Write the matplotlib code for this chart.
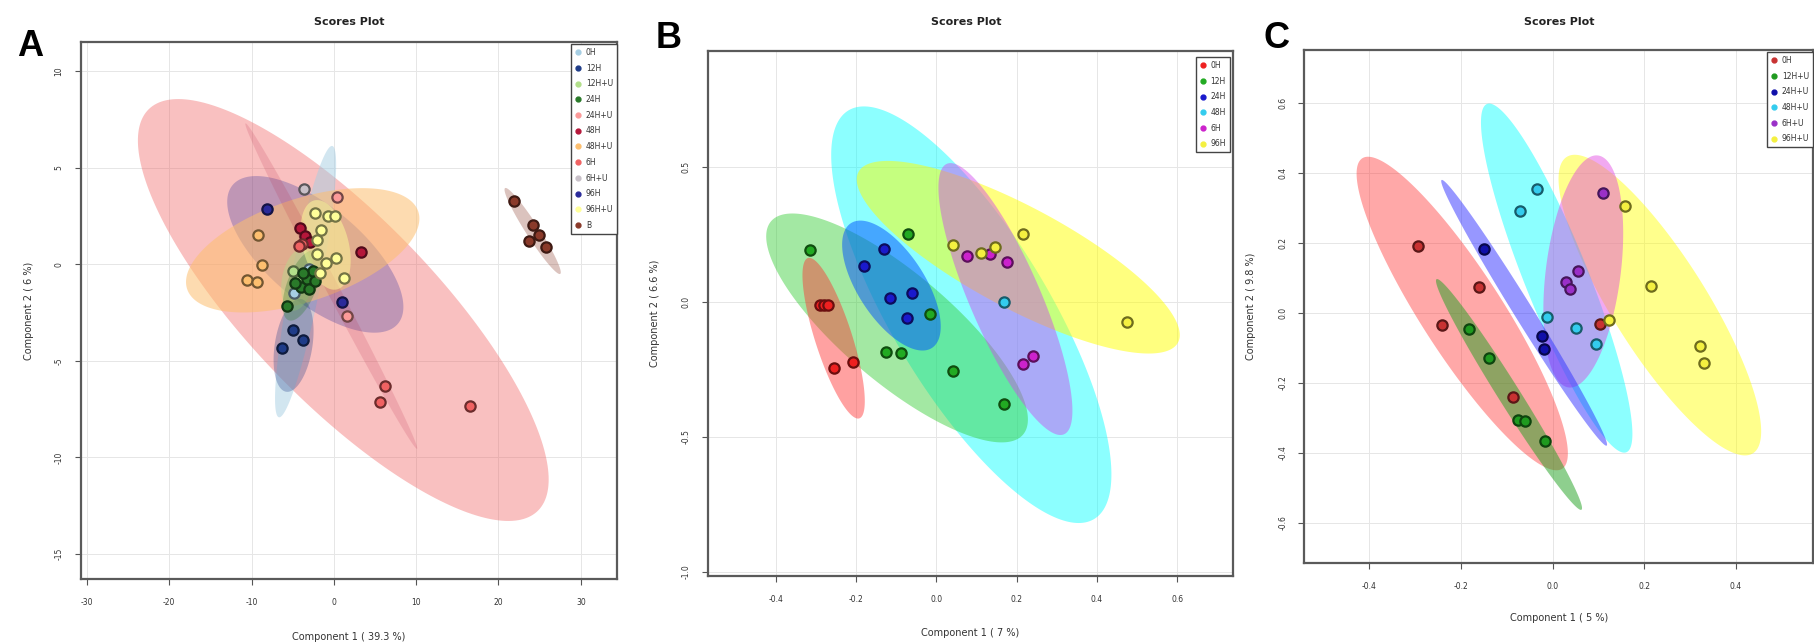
import numpy as np
import matplotlib
matplotlib.use("Agg")
import matplotlib.pyplot as plt
from matplotlib.lines import Line2D
from matplotlib.colors import to_rgb

W, H = 1815, 644

# ---------------- Panel A data ----------------
A_labels = ["0H", "12H", "12H+U", "24H", "24H+U", "48H", "48H+U", "6H", "6H+U", "96H", "96H+U", "B"]
A_colors = ["#a6cee3", "#1f3c88", "#b2df8a", "#2a7a2a", "#fb9a99", "#b5173a",
            "#fdbf6f", "#f06262", "#c8c0c8", "#2a2a9a", "#ffff99", "#8a3a2a"]
A_x = [[-4.89, -3.07],
       [-4.99, -3.79, -6.33],
       [-4.99, -4.2],
       [-5.71, -4.03, -3.31, -2.59, -3.79, -3.07, -4.75, -2.35],
       [0.38, 1.62],
       [-4.17, -3.55, -2.93, 3.25],
       [-9.2, -8.73, -10.5, -9.4],
       [6.27, 5.55, 16.57, -3.93, -4.27],
       [-3.65],
       [-8.1, 1.0],
       [-2.26, -0.77, 0.19, -2.11, -1.54, -2.11, -0.92, 0.28, 1.24, -1.73],
       [21.85, 24.24, 24.96, 23.76, 25.77]]
A_y = [[-1.5, -0.23],
       [-3.41, -3.94, -4.32],
       [-0.34, -0.8],
       [-2.14, -1.19, -0.76, -0.34, -0.44, -1.29, -0.97, -0.87],
       [3.47, -2.67],
       [1.86, 1.46, 1.14, 0.61],
       [1.53, -0.02, -0.83, -0.93],
       [-6.31, -7.12, -7.33, 1.04, 0.93],
       [3.90],
       [2.88, -1.93],
       [2.63, 2.52, 2.52, 1.25, 1.78, 0.51, 0.08, 0.34, -0.72, -0.44],
       [3.26, 2.03, 1.53, 1.19, 0.87]]
# ellipses: centre, one end of the long axis, width ratio
A_ell_cx = [-3.44, -4.9, -4.4, -3.9, None, -0.32, -3.79, 1.14, None, -2.26, -1.0, 24.15]
A_ell_cy = [-0.9, -4.2, -0.8, -1.1, None, -1.13, 0.72, -2.37, None, 0.51, 1.0, 1.72]
A_ell_tx = [-0.2, -4.0, -3.7, -2.3, None, -10.74, 10.25, -22.48, None, -12.3, -2.4, 20.8]
A_ell_ty = [6.12, -1.8, 0.8, 0.7, None, 7.29, 2.73, 8.03, None, 4.1, 3.3, 3.94]
A_ell_r = [0.11, 0.4, 0.5, 0.4, None, 0.035, 0.42, 0.33, None, 0.44, 0.5, 0.13]
A_ell_alpha = [0.5, 0.3, 0.4, 0.3, 0, 0.15, 0.55, 0.4, 0, 0.28, 0.5, 0.3]
A_ell_order = [7, 0, 9, 6, 5, 1, 2, 3, 10, 11]
A_xticks = [-30, -20, -10, 0, 10, 20, 30]
A_yticks = [-15, -10, -5, 0, 5, 10]

# ---------------- Panel B data ----------------
B_labels = ["0H", "12H", "24H", "48H", "6H", "96H"]
B_colors = ["#ee2020", "#22aa22", "#1a1acc", "#33ccee", "#cc22cc", "#f4f040"]
B_ell_colors = ["#ff3030", "#33cc33", "#0050ff", "#00ffff", "#d044ee", "#ffff00"]
B_x = [[-0.29, -0.28, -0.27, -0.256, -0.208],
       [-0.315, -0.071, -0.015, -0.125, -0.089, 0.041, 0.169],
       [-0.181, -0.130, -0.116, -0.060, -0.072],
       [0.169],
       [0.077, 0.133, 0.177, 0.215, 0.240],
       [0.041, 0.110, 0.146, 0.217, 0.475]]
B_y = [[-0.012, -0.012, -0.012, -0.243, -0.223],
       [0.193, 0.251, -0.043, -0.184, -0.19, -0.255, -0.377],
       [0.135, 0.196, 0.014, 0.033, -0.058],
       [-0.001],
       [0.170, 0.178, 0.147, -0.229, -0.199],
       [0.213, 0.182, 0.204, 0.251, -0.073]]
B_ell_cx = [-0.256, -0.098, -0.112, 0.087, 0.172, 0.204]
B_ell_cy = [-0.134, -0.096, 0.061, -0.047, 0.011, 0.166]
B_ell_tx = [-0.320, -0.412, -0.213, -0.219, 0.026, -0.194]
B_ell_ty = [0.163, 0.299, 0.292, 0.71, 0.512, 0.482]
B_ell_r = [0.22, 0.33, 0.45, 0.33, 0.24, 0.28]
B_ell_alpha = [0.45, 0.45, 0.5, 0.45, 0.45, 0.5]
B_ell_order = [3, 1, 5, 4, 0, 2]
B_xticks = [-0.4, -0.2, 0.0, 0.2, 0.4, 0.6]
B_yticks = [-1.0, -0.5, 0.0, 0.5]

# ---------------- Panel C data ----------------
C_labels = ["0H", "12H+U", "24H+U", "48H+U", "6H+U", "96H+U"]
C_colors = ["#c83232", "#1f9a1f", "#1010aa", "#33ccee", "#9a30c8", "#f4f040"]
C_ell_colors = ["#ff3030", "#1fa01f", "#3030ff", "#00ffff", "#e040e0", "#ffff00"]
C_x = [[-0.293, -0.242, -0.161, -0.086, 0.103],
       [-0.182, -0.139, -0.075, -0.061, -0.017],
       [-0.149, -0.024, -0.019],
       [-0.033, -0.072, -0.012, 0.051, 0.095],
       [0.109, 0.055, 0.029, 0.037],
       [0.158, 0.215, 0.124, 0.322, 0.331]]
C_y = [[0.191, -0.036, 0.073, -0.239, -0.033],
       [-0.045, -0.129, -0.306, -0.309, -0.365],
       [0.182, -0.065, -0.104],
       [0.352, 0.291, -0.013, -0.042, -0.088],
       [0.341, 0.12, 0.087, 0.067],
       [0.305, 0.076, -0.021, -0.095, -0.142]]
C_ell_cx = [-0.197, -0.095, -0.062, 0.009, 0.067, 0.234]
C_ell_cy = [-0.002, -0.233, 0.0, 0.099, 0.118, 0.022]
C_ell_tx = [-0.415, -0.253, -0.242, -0.143, 0.099, 0.031]
C_ell_ty = [0.441, 0.096, 0.379, 0.596, 0.449, 0.445]
C_ell_r = [0.22, 0.08, 0.06, 0.17, 0.32, 0.27]
C_ell_alpha = [0.42, 0.5, 0.5, 0.45, 0.45, 0.45]
C_ell_order = [5, 3, 4, 0, 1, 2]
C_xticks = [-0.4, -0.2, 0.0, 0.2, 0.4]
C_yticks = [-0.6, -0.4, -0.2, 0.0, 0.2, 0.4, 0.6]

fig = plt.figure(figsize=(W / 100, H / 100), dpi=100)


def add_axes(l, r, t, b):
    return fig.add_axes([l / W, 1 - b / H, (r - l) / W, (b - t) / H])


def darker(c, f=0.45):
    r, g, b = to_rgb(c)
    return (r * f, g * f, b * f)


def draw_ellipse(ax, cx, cy, tx, ty, ratio, color, alpha):
    T = ax.transData
    c = T.transform((cx, cy))
    t = T.transform((tx, ty))
    v = t - c
    perp = np.array([-v[1], v[0]]) * ratio
    th = np.linspace(0, 2 * np.pi, 240)
    pts = c + np.outer(np.cos(th), v) + np.outer(np.sin(th), perp)
    d = T.inverted().transform(pts)
    ax.fill(d[:, 0], d[:, 1], color=color, alpha=alpha, lw=0, zorder=1)


def style(ax, xlim, ylim, xt, yt, xtl, ytl, xl, yl, ylab_x, xlab_y):
    ax.set_xlim(*xlim)
    ax.set_ylim(*ylim)
    ax.set_xticks(xt)
    ax.set_yticks(yt)
    ax.set_xticklabels(xtl)
    ax.set_yticklabels(ytl, rotation=90, va="center")
    ax.grid(True, color="#e6e6e6", lw=0.7)
    ax.set_axisbelow(True)
    for s in ax.spines.values():
        s.set_color("#5a5a5a")
        s.set_linewidth(1.6)
    ax.tick_params(axis="both", direction="out", length=4, width=0.8, color="#555555",
                   labelsize=5.5, labelcolor="#333333")
    ax.tick_params(axis="x", pad=10)
    ax.tick_params(axis="y", pad=8.5)
    ax.set_xlabel(xl, fontsize=7, color="#333333")
    ax.set_ylabel(yl, fontsize=7, color="#333333")
    ax.xaxis.set_label_coords(0.5, xlab_y)
    ax.yaxis.set_label_coords(ylab_x, 0.5)


def panel(ax, labels, colors, ell_colors, xs, ys, ecx, ecy, etx, ety, er, ea, order, leg_anchor):
    for i in order:
        if er[i] is not None:
            draw_ellipse(ax, ecx[i], ecy[i], etx[i], ety[i], er[i], ell_colors[i], ea[i])
    for i in range(len(labels)):
        ax.scatter(xs[i], ys[i], s=55, facecolor=colors[i], edgecolor=darker(colors[i]),
                   linewidth=1.6, zorder=3)
    handles = [Line2D([], [], marker="o", ls="", markersize=3.5, markerfacecolor=c,
                      markeredgecolor=c) for c in colors]
    leg = ax.legend(handles, labels, loc="upper right", bbox_to_anchor=leg_anchor,
                    fontsize=5.5, frameon=True, fancybox=False, borderaxespad=0,
                    labelspacing=0.88, handlelength=0.8, handletextpad=0.6,
                    borderpad=0.5)
    leg.get_frame().set_edgecolor("#444444")
    leg.get_frame().set_linewidth(1.0)
    leg.get_frame().set_alpha(1)
    for t in leg.get_texts():
        t.set_color("#333333")


def fmt1(vals):
    return ["%.1f" % v for v in vals]


# Panel A
axA = add_axes(81, 617, 42, 579)
style(axA, (-30.73, 34.4), (-16.29, 11.5), A_xticks, A_yticks,
      [str(v) for v in A_xticks], [str(v) for v in A_yticks],
      "Component 1 ( 39.3 %)", "Component 2 ( 6 %)", (33.6 - 81) / 536, -(632 - 579) / 537)
panel(axA, A_labels, A_colors, A_colors, A_x, A_y, A_ell_cx, A_ell_cy, A_ell_tx, A_ell_ty,
      A_ell_r, A_ell_alpha, A_ell_order, (1.0, 1 - 2 / 537))

# Panel B
axB = add_axes(708, 1233, 51, 576)
style(axB, (-0.569, 0.739), (-1.015, 0.93), B_xticks, B_yticks, fmt1(B_xticks), fmt1(B_yticks),
      "Component 1 ( 7 %)", "Component 2 ( 6.6 %)", (660 - 708) / 525, -(628 - 576) / 525)
panel(axB, B_labels, B_colors, B_ell_colors, B_x, B_y, B_ell_cx, B_ell_cy, B_ell_tx, B_ell_ty,
      B_ell_r, B_ell_alpha, B_ell_order, (1 - 3 / 525, 1 - 6 / 525))

# Panel C
axC = add_axes(1304.5, 1813, 50, 563)
style(axC, (-0.541, 0.568), (-0.714, 0.75), C_xticks, C_yticks, fmt1(C_xticks), fmt1(C_yticks),
      "Component 1 ( 5 %)", "Component 2 ( 9.8 %)", (1256.5 - 1304.5) / 508.5, -(613 - 563) / 513)
panel(axC, C_labels, C_colors, C_ell_colors, C_x, C_y, C_ell_cx, C_ell_cy, C_ell_tx, C_ell_ty,
      C_ell_r, C_ell_alpha, C_ell_order, (1.0, 1 - 2 / 513))

# titles and panel letters
for cx in (349.6, 966, 1559):
    fig.text(cx / W, 1 - 21.7 / H, "Scores Plot", ha="center", va="center",
             fontsize=8, fontweight="bold", color="#222222")
for letter, (px, py) in zip(["A", "B", "C"], [(30, 47), (669, 39), (1277, 39)]):
    fig.text(px / W, 1 - py / H, letter, ha="center", va="center", fontsize=26,
             fontweight="bold", family=["Liberation Sans", "DejaVu Sans"], color="black")

fig.savefig("out.png", dpi=100, facecolor="white")
